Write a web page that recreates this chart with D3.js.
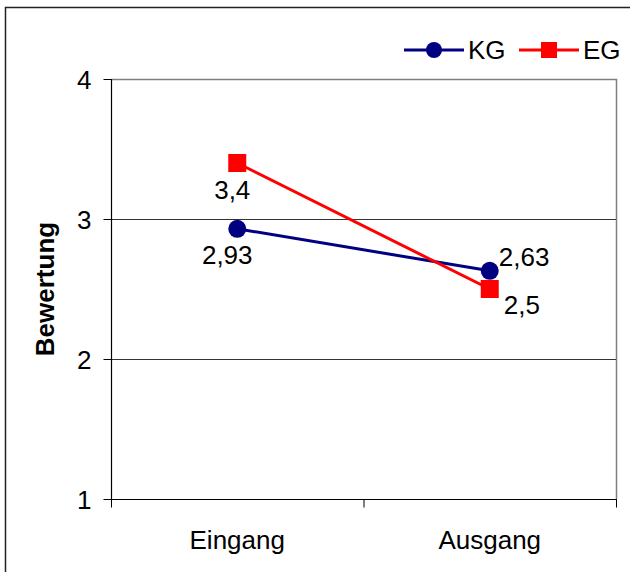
<!DOCTYPE html>
<html>
<head>
<meta charset="utf-8">
<script src="https://cdn.jsdelivr.net/npm/d3@7"></script>
<style>
  html, body { margin: 0; padding: 0; background: #fff; }
  svg { display: block; }
  text { font-family: "Liberation Sans", Arial, sans-serif; fill: #000; }
</style>
</head>
<body>
<svg id="chart" width="630" height="572"></svg>
<script>
// Categories, series and tick labels
const categories = ["Eingang", "Ausgang"];
const kgValues = [2.93, 2.63];
const egValues = [3.4, 2.5];
const yTicks = [1, 2, 3, 4];
const seriesNames = ["KG", "EG"];
const seriesColors = ["#000080", "#FF0000"];

// Data label offsets (dx, dy, anchor) relative to each point
const labelOffsets = [
  [[-10, 35, "middle"], [9, -5, "start"]],
  [[-5, 36, "middle"], [14, 25, "start"]]
];

const fmt = v => String(v).replace(".", ",");

const svg = d3.select("#chart");
const plot = { left: 111, right: 616, top: 79, bottom: 499 };
const FS = 26;

// Outer chart frame
svg.append("rect")
  .attr("x", 5.5).attr("y", 7.5)
  .attr("width", 640).attr("height", 600)
  .attr("fill", "none").attr("stroke", "#222").attr("stroke-width", 1.5);

const y = d3.scaleLinear().domain([1, 4]).range([plot.bottom, plot.top]);
const xBand = d3.scaleBand().domain(categories).range([plot.left, plot.right]);
const x = d => xBand(d) + xBand.bandwidth() / 2;

// Plot area border (gray top/right)
svg.append("path")
  .attr("d", `M${plot.left},${plot.top + 0.5}H${plot.right + 0.5}V${plot.bottom}`)
  .attr("fill", "none").attr("stroke", "#808080").attr("stroke-width", 1.5);

// Horizontal gridlines
svg.append("g").selectAll("line")
  .data(yTicks.filter(t => t > 1 && t < 4))
  .join("line")
  .attr("x1", plot.left).attr("x2", plot.right)
  .attr("y1", d => Math.round(y(d)) + 0.5).attr("y2", d => Math.round(y(d)) + 0.5)
  .attr("stroke", "#333").attr("stroke-width", 1);

// Y axis
const yAxis = svg.append("g")
  .attr("transform", `translate(${plot.left + 0.5},0)`)
  .call(d3.axisLeft(y).tickValues(yTicks).tickFormat(d => d).tickSize(8).tickPadding(12));
yAxis.select(".domain").attr("stroke", "#000").attr("stroke-width", 1.2)
  .attr("d", `M0,${plot.top}V${plot.bottom}`);
yAxis.selectAll(".tick line").attr("stroke", "#000");
yAxis.selectAll(".tick text").attr("font-size", FS).attr("dy", "0.36em")
  .style("font-family", '"Liberation Sans", Arial, sans-serif').attr("fill", "#000");

// X axis with ticks at category boundaries
const xAxis = svg.append("g").attr("transform", `translate(0,${plot.bottom + 0.5})`);
xAxis.append("line").attr("x1", plot.left).attr("x2", plot.right + 1)
  .attr("stroke", "#000").attr("stroke-width", 1.2);
const bounds = categories.map(c => xBand(c)).concat([xBand(categories[categories.length - 1]) + xBand.bandwidth()]);
xAxis.selectAll(".btick").data(bounds).join("line")
  .attr("x1", d => d + 0.5).attr("x2", d => d + 0.5)
  .attr("y1", 0).attr("y2", 8).attr("stroke", "#000");
xAxis.selectAll(".clabel").data(categories).join("text")
  .attr("x", d => x(d)).attr("y", 49)
  .attr("text-anchor", "middle").attr("font-size", FS).text(d => d);

// Y axis title
svg.append("text")
  .attr("transform", `translate(54,${(plot.top + plot.bottom) / 2}) rotate(-90)`)
  .attr("text-anchor", "middle").attr("font-size", FS).attr("font-weight", "bold")
  .text("Bewertung");

// Series
const series = [kgValues, egValues];
const line = d3.line().x((d, i) => x(categories[i])).y(d => y(d));

series.forEach((vals, s) => {
  const g = svg.append("g");
  g.append("path").datum(vals).attr("d", line)
    .attr("fill", "none").attr("stroke", seriesColors[s]).attr("stroke-width", 3);
  if (s === 0) {
    g.selectAll("circle").data(vals).join("circle")
      .attr("cx", (d, i) => x(categories[i])).attr("cy", d => y(d))
      .attr("r", 9).attr("fill", seriesColors[s]);
  } else {
    g.selectAll("rect").data(vals).join("rect")
      .attr("x", (d, i) => x(categories[i]) - 9).attr("y", d => y(d) - 9)
      .attr("width", 18).attr("height", 18).attr("fill", seriesColors[s]);
  }
  g.selectAll("text").data(vals).join("text")
    .attr("x", (d, i) => x(categories[i]) + labelOffsets[s][i][0])
    .attr("y", d => y(d))
    .attr("dy", (d, i) => labelOffsets[s][i][1])
    .attr("text-anchor", (d, i) => labelOffsets[s][i][2])
    .attr("font-size", FS)
    .text(d => fmt(d));
});

// Legend
const legend = svg.append("g");
const legendItems = [
  { x0: 404, name: seriesNames[0], color: seriesColors[0], shape: "circle" },
  { x0: 519, name: seriesNames[1], color: seriesColors[1], shape: "square" }
];
const ly = 50;
legendItems.forEach(it => {
  legend.append("line").attr("x1", it.x0).attr("x2", it.x0 + 60)
    .attr("y1", ly).attr("y2", ly).attr("stroke", it.color).attr("stroke-width", 3);
  if (it.shape === "circle") {
    legend.append("circle").attr("cx", it.x0 + 30).attr("cy", ly).attr("r", 8).attr("fill", it.color);
  } else {
    legend.append("rect").attr("x", it.x0 + 22).attr("y", ly - 8)
      .attr("width", 16).attr("height", 16).attr("fill", it.color);
  }
  legend.append("text").attr("x", it.x0 + 64).attr("y", ly + 9)
    .attr("font-size", FS).text(it.name);
});
</script>
</body>
</html>
